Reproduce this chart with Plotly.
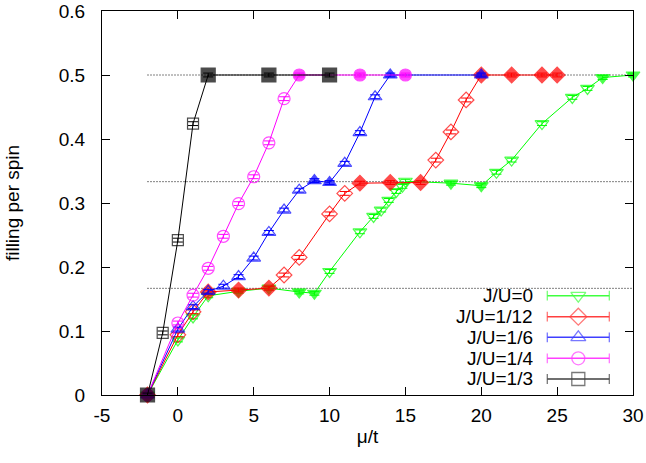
import plotly.graph_objects as go

# ---------------- data ----------------
labels = ["J/U=0", "J/U=1/12", "J/U=1/6", "J/U=1/4", "J/U=1/3"]
colors = ["#00ff00", "#ff0000", "#0000ff", "#ff00ff", "#000000"]
symbols = ["triangle-down", "diamond", "triangle-up", "circle", "square"]

mu_0 = [-2, 0, 1, 2, 4, 6, 8, 9, 10, 12, 12.9, 13.4, 13.9, 14.4, 14.8, 15, 18, 20, 21, 22, 24, 26, 27, 28, 30]
n_0 = [0, 0.086, 0.122, 0.155, 0.162, 0.167, 0.161, 0.159, 0.193, 0.255, 0.279, 0.289, 0.304, 0.318,
       0.326, 0.334, 0.331, 0.327, 0.348, 0.367, 0.424, 0.465, 0.479, 0.496, 0.5]
f_0 = [1, 0, 0, 0, 1, 1, 1, 1, 0, 0, 0, 0, 0, 0, 0, 0, 1, 1, 0, 0, 0, 0, 0, 1, 1]

mu_1 = [-2, 0, 1, 2, 4, 6, 7, 8, 10, 11, 12, 14, 16, 17, 18, 19, 20, 22, 24, 25]
n_1 = [0, 0.094, 0.13, 0.161, 0.164, 0.167, 0.1875, 0.215, 0.283, 0.315, 0.331, 0.332, 0.332,
       0.367, 0.411, 0.461, 0.5, 0.5, 0.5, 0.5]
f_1 = [1, 0, 0, 1, 1, 1, 0, 0, 0, 0, 1, 1, 1, 0, 0, 0, 1, 1, 1, 1]

mu_2 = [-2, 0, 1, 2, 3, 4, 5, 6, 7, 8, 9, 10, 11, 12, 13, 14, 20]
n_2 = [0, 0.103, 0.138, 0.162, 0.17, 0.185, 0.214, 0.254, 0.289, 0.32, 0.335, 0.332, 0.362,
       0.41, 0.466, 0.5, 0.5]
f_2 = [1, 0, 0, 0, 0, 0, 0, 0, 0, 0, 1, 1, 0, 0, 0, 1, 1]

mu_3 = [-2, 0, 1, 2, 3, 4, 5, 6, 7, 8, 12, 15]
n_3 = [0, 0.1125, 0.156, 0.198, 0.248, 0.299, 0.341, 0.394, 0.463, 0.5, 0.5, 0.5]
f_3 = [1, 0, 0, 0, 0, 0, 0, 0, 0, 1, 1, 1]

mu_4 = [-2, -1, 0, 1, 2, 6, 10]
n_4 = [0, 0.097, 0.242, 0.424, 0.5, 0.5, 0.5]
f_4 = [1, 0, 0, 0, 1, 1, 1]

err_n = 0.003  # small statistical error bars seen on the points

plateau_levels = [1 / 6, 1 / 3, 1 / 2]
plateau_mu = [-2, 30]

x_ticks = [-5, 0, 5, 10, 15, 20, 25, 30]
x_ticktext = ["-5", "0", "5", "10", "15", "20", "25", "30"]
y_ticks = [0, 0.1, 0.2, 0.3, 0.4, 0.5, 0.6]
y_ticktext = ["0", "0.1", "0.2", "0.3", "0.4", "0.5", "0.6"]

series = [(mu_0, n_0, f_0), (mu_1, n_1, f_1), (mu_2, n_2, f_2), (mu_3, n_3, f_3), (mu_4, n_4, f_4)]

FONT = "Liberation Sans, Arial, Helvetica, sans-serif"
filled_size = {"triangle-down": 12, "diamond": 12, "triangle-up": 12, "circle": 12, "square": 14}
open_size = {"triangle-down": 12, "diamond": 12, "triangle-up": 12, "circle": 12, "square": 11}

fig = go.Figure()

# dotted plateau guides
for lvl in plateau_levels:
    fig.add_trace(go.Scatter(
        x=plateau_mu, y=[lvl, lvl], mode="lines",
        line=dict(color="black", width=1, dash="1px,2px"),
        hoverinfo="skip", showlegend=False))

# data series
for (mu, n, f), lab, col, sym in zip(series, labels, colors, symbols):
    fig.add_trace(go.Scatter(
        x=mu, y=n, mode="lines+markers", name=lab,
        line=dict(color=col, width=1),
        marker=dict(
            symbol=[sym if fi else sym + "-open" for fi in f],
            size=[filled_size[sym] if fi else open_size[sym] for fi in f],
            color=col, line=dict(color=col, width=1.2)),
        error_y=dict(type="constant", value=err_n, color=col, thickness=1, width=5),
        cliponaxis=False,
        showlegend=False))

# ---------------- gnuplot-style key (text left, sample right) ----------------
key_text_x = 0.815
key_line_x = [0.8386, 0.897, 0.9554]
key_rows = [0.2586, 0.2039, 0.1503, 0.0956, 0.0417]

for lab, col, sym, ky in zip(labels, colors, symbols, key_rows):
    fig.add_annotation(xref="paper", yref="paper", x=key_text_x, y=ky, text=lab,
                       showarrow=False, xanchor="right", yanchor="middle",
                       font=dict(family=FONT, size=19, color="black"))
    fig.add_trace(go.Scatter(
        x=key_line_x, y=[ky] * 3, xaxis="x2", yaxis="y2",
        mode="lines+markers",
        line=dict(color=col, width=1.5),
        marker=dict(symbol=["line-ns", sym + "-open", "line-ns"], size=[7, 13, 7],
                    color=col, line=dict(color=col, width=1.3)),
        opacity=0.75, hoverinfo="skip", showlegend=False))

axis_common = dict(
    showline=True, linecolor="black", linewidth=1, mirror="allticks",
    ticks="inside", ticklen=8, tickcolor="black", tickwidth=1,
    showgrid=False, zeroline=False, automargin=False,
    tickfont=dict(family=FONT, size=19, color="black"),
)

fig.update_layout(
    width=646, height=463,
    margin=dict(l=102, r=13, t=11, b=68),
    plot_bgcolor="white", paper_bgcolor="white",
    showlegend=False,
    font=dict(family=FONT, size=19, color="black"),
    xaxis=dict(range=[-5, 30], tickvals=x_ticks, ticktext=x_ticktext,
               ticklabelstandoff=3,
               title=dict(text="μ/t", font=dict(family=FONT, size=19), standoff=4),
               **axis_common),
    yaxis=dict(range=[0, 0.6], tickvals=y_ticks, ticktext=y_ticktext,
               ticklabelstandoff=12,
               title=dict(text="filling per spin", font=dict(family=FONT, size=19), standoff=34),
               **axis_common),
    xaxis2=dict(overlaying="x", range=[0, 1], visible=False, fixedrange=True),
    yaxis2=dict(overlaying="y", range=[0, 1], visible=False, fixedrange=True),
)

fig.write_html("out.html")
